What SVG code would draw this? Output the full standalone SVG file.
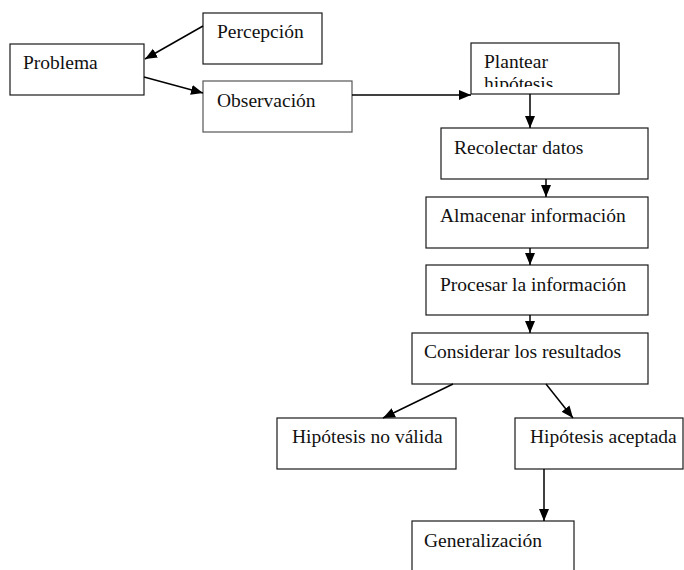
<svg xmlns="http://www.w3.org/2000/svg" width="684" height="570" viewBox="0 0 684 570">
  <style>
    .box { fill: #ffffff; stroke: #1a1a1a; stroke-width: 1.2; }
    .lbl { font-family: "Liberation Serif", "Times New Roman", serif; font-size: 19.5px; fill: #111111; }
    .edge { stroke: #000000; stroke-width: 1.5; fill: none; marker-end: url(#head); }
  </style>
  <defs>
    <marker id="head" markerUnits="userSpaceOnUse" markerWidth="14" markerHeight="12" refX="12" refY="6" orient="auto">
      <path d="M0,1 L12,6 L0,11 Z" fill="#000000"/>
    </marker>
    <clipPath id="clipPlantear">
      <rect x="472" y="44" width="146" height="43"/>
    </clipPath>
  </defs>

  <rect width="684" height="570" fill="#ffffff"/>

  <g id="problema">
    <rect class="box" x="10" y="44" width="134" height="51"/>
    <text class="lbl" x="23" y="69">Problema</text>
  </g>
  <g id="percepcion">
    <rect class="box" x="203" y="13" width="119" height="51"/>
    <text class="lbl" x="217" y="38">Percepción</text>
  </g>
  <g id="observacion">
    <rect class="box" x="203" y="81" width="149" height="51" style="stroke:#555"/>
    <text class="lbl" x="217" y="107">Observación</text>
  </g>
  <g id="plantear">
    <rect class="box" x="471" y="43" width="148" height="51"/>
    <g clip-path="url(#clipPlantear)">
      <text class="lbl" x="484" y="68">Plantear</text>
      <text class="lbl" x="484" y="90">hipótesis</text>
    </g>
  </g>
  <g id="recolectar">
    <rect class="box" x="441" y="128" width="207" height="51"/>
    <text class="lbl" x="454" y="154">Recolectar datos</text>
  </g>
  <g id="almacenar">
    <rect class="box" x="426" y="197" width="222" height="51"/>
    <text class="lbl" x="440" y="222">Almacenar información</text>
  </g>
  <g id="procesar">
    <rect class="box" x="426" y="265" width="222" height="50"/>
    <text class="lbl" x="440" y="291">Procesar la información</text>
  </g>
  <g id="considerar">
    <rect class="box" x="412" y="333" width="236" height="51"/>
    <text class="lbl" x="424" y="358">Considerar los resultados</text>
  </g>
  <g id="no-valida">
    <rect class="box" x="277" y="418" width="179" height="51"/>
    <text class="lbl" x="292" y="443">Hipótesis no válida</text>
  </g>
  <g id="aceptada">
    <rect class="box" x="515" y="418" width="168" height="51"/>
    <text class="lbl" x="530" y="443">Hipótesis aceptada</text>
  </g>
  <g id="generalizacion">
    <rect class="box" x="412" y="521" width="162" height="60"/>
    <text class="lbl" x="424" y="547">Generalización</text>
  </g>

  <g id="connectors">
    <line class="edge" x1="203" y1="26" x2="145" y2="59"/>
    <line class="edge" x1="144" y1="77" x2="203" y2="93"/>
    <line class="edge" x1="352" y1="95" x2="471" y2="95"/>
    <line class="edge" x1="530" y1="94" x2="530" y2="128"/>
    <line class="edge" x1="546" y1="179" x2="546" y2="197"/>
    <line class="edge" x1="530" y1="248" x2="530" y2="265"/>
    <line class="edge" x1="530" y1="315" x2="530" y2="333"/>
    <line class="edge" x1="453" y1="384" x2="383" y2="418"/>
    <line class="edge" x1="546" y1="384" x2="573" y2="418"/>
    <line class="edge" x1="544" y1="469" x2="544" y2="521"/>
  </g>
</svg>
